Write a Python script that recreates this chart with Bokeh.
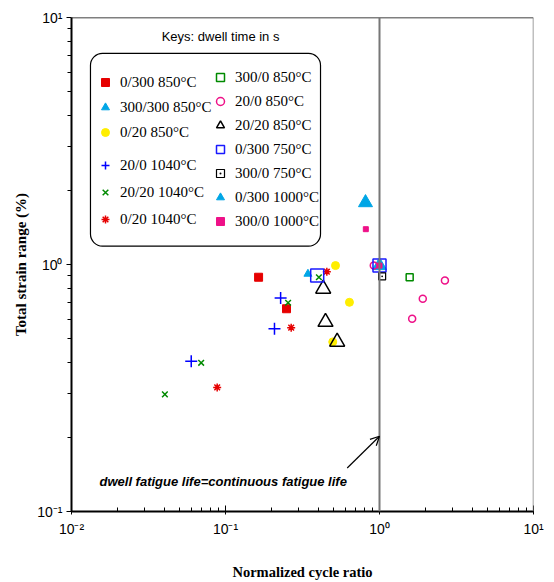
from bokeh.plotting import figure
from bokeh.models import (Range1d, Span, Arrow, OpenHead, Label, Legend, LegendItem,
                          BoxAnnotation, CustomJSTickFormatter, FixedTicker)
from bokeh.embed import file_html
from bokeh.resources import INLINE

# ---------------- data (normalized cycle ratio, total strain range %) ----------------
labels = ["0/300 850°C", "300/300 850°C", "0/20 850°C", "20/0 1040°C", "20/20 1040°C",
          "0/20 1040°C", "300/0 850°C", "20/0 850°C", "20/20 850°C", "0/300 750°C",
          "300/0 750°C", "0/300 1000°C", "300/0 1000°C"]

x_0_300_850 = [0.164, 0.249]
y_0_300_850 = [0.888, 0.662]
x_300_300_850 = [0.343]
y_300_300_850 = [0.916]
x_0_20_850 = [0.518, 0.638, 0.497]
y_0_20_850 = [0.99, 0.703, 0.486]
x_20_0_1040 = [0.228, 0.208, 0.0599]
y_20_0_1040 = [0.731, 0.55, 0.406]
x_20_20_1040 = [0.404, 0.255, 0.0695, 0.0404]
y_20_20_1040 = [0.888, 0.700, 0.400, 0.298]
x_0_20_1040 = [0.455, 0.267, 0.0883]
y_0_20_1040 = [0.935, 0.555, 0.318]
x_300_0_850 = [1.57]
y_300_0_850 = [0.888]
x_20_0_850 = [0.918, 2.66, 1.91, 1.63]
y_20_0_850 = [0.99, 0.861, 0.727, 0.603]
x_20_20_850 = [0.431, 0.446, 0.531]
y_20_20_850 = [0.797, 0.585, 0.486]
x_0_300_750 = [0.394, 1.0]
y_0_300_750 = [0.902, 0.99]
x_300_0_750 = [1.04]
y_300_0_750 = [0.896]
x_0_300_1000 = [0.811, 1.0]
y_0_300_1000 = [1.78, 0.99]
x_300_0_1000 = [0.815, 1.0]
y_300_0_1000 = [1.39, 0.99]

x_tick_exps = [-2, -1, 0, 1]
x_tick_labels = ["10⁻²", "10⁻¹", "10⁰", "10¹"]
y_tick_exps = [-1, 0, 1]
y_tick_labels = ["10⁻¹", "10⁰", "10¹"]

legend_title = "Keys: dwell time in s"
note_text = "dwell fatigue life=continuous fatigue life"

# ---------------- figure ----------------
p = figure(width=554, height=582, x_axis_type="log", y_axis_type="log",
           x_range=Range1d(0.01, 10), y_range=Range1d(0.1, 10),
           output_backend="svg", toolbar_location=None,
           min_border_left=71, min_border_right=21, min_border_top=17, min_border_bottom=68)
p.grid.visible = False
p.outline_line_color = None
p.background_fill_color = "white"
p.border_fill_color = "white"


def decade_ticks(exps):
    major = [10.0 ** e for e in exps]
    minor = [k * 10.0 ** e for e in exps[:-1] for k in range(2, 10)]
    return FixedTicker(ticks=major, minor_ticks=minor)


fmt_code = """
const e = Math.round(Math.log10(tick));
const i = exps.indexOf(e);
return i >= 0 ? labels[i] : "";
"""
xa = p.xaxis[0]
xa.ticker = decade_ticks(x_tick_exps)
xa.formatter = CustomJSTickFormatter(args=dict(exps=x_tick_exps, labels=x_tick_labels), code=fmt_code)
xa.axis_label = "Normalized cycle ratio"
xa.axis_label_text_font = "Liberation Serif"
xa.axis_label_text_font_size = "14.5px"
xa.axis_label_text_font_style = "bold"
xa.axis_label_text_color = "black"
xa.axis_label_standoff = 24
xa.major_label_text_font = "Liberation Sans"
xa.major_label_text_font_size = "14px"
xa.major_label_text_color = "black"
xa.major_label_standoff = 6
xa.major_tick_in = 6
xa.major_tick_out = 3
xa.minor_tick_in = 4
xa.minor_tick_out = 0
xa.axis_line_width = 2
xa.axis_line_color = "black"
xa.major_tick_line_color = "black"
xa.minor_tick_line_color = "black"

ya = p.yaxis[0]
ya.ticker = decade_ticks(y_tick_exps)
ya.formatter = CustomJSTickFormatter(args=dict(exps=y_tick_exps, labels=y_tick_labels), code=fmt_code)
ya.axis_label = "Total strain range (%)"
ya.axis_label_text_font = "Liberation Serif"
ya.axis_label_text_font_size = "15px"
ya.axis_label_text_font_style = "bold"
ya.axis_label_text_color = "black"
ya.axis_label_standoff = 5
ya.major_label_text_font = "Liberation Sans"
ya.major_label_text_font_size = "14px"
ya.major_label_text_color = "black"
ya.major_label_standoff = 4
ya.major_tick_in = 0
ya.major_tick_out = 5
ya.minor_tick_in = 0
ya.minor_tick_out = 4
ya.axis_line_width = 2
ya.axis_line_color = "black"
ya.major_tick_line_color = "black"
ya.minor_tick_line_color = "black"

# frame lines
p.add_layout(Span(location=10, dimension="width", line_color="black", line_width=1.5))
p.add_layout(Span(location=10, dimension="height", line_color="#808080", line_width=1.5))
p.add_layout(Span(location=1, dimension="height", line_color="#777777", line_width=2))

# ---------------- series ----------------
RED = "#e60000"
CYAN = "#00a6e6"
YELLOW = "#ffee00"
BLUE = "#1a1aff"
GREEN = "#008a00"
PINK = "#ee1188"

r = {}
r[2] = p.scatter(x_0_20_850, y_0_20_850, marker="circle", size=8, fill_color=YELLOW, line_color=YELLOW)
r[0] = p.scatter(x_0_300_850, y_0_300_850, marker="square", size=8, fill_color=RED, line_color=RED)
r[1] = p.scatter(x_300_300_850, y_300_300_850, marker="triangle", size=8, fill_color=CYAN, line_color=CYAN)
r[3] = p.scatter(x_20_0_1040, y_20_0_1040, marker="cross", size=12, line_color="#0000ff", line_width=1.5)
r[8] = p.scatter(x_20_20_850, y_20_20_850, marker="triangle", size=15, fill_color=None,
                 line_color="black", line_width=1.5)
r[5] = p.scatter(x_0_20_1040, y_0_20_1040, marker="asterisk", size=8, line_color=RED, line_width=1.5)
r[6] = p.scatter(x_300_0_850, y_300_0_850, marker="square", size=7, fill_color=None,
                 line_color=GREEN, line_width=1.5)
r[11] = p.scatter(x_0_300_1000, y_0_300_1000, marker="triangle", size=14, fill_color=CYAN, line_color=CYAN)
r[7] = p.scatter(x_20_0_850, y_20_0_850, marker="circle", size=7, fill_color=None,
                 line_color=PINK, line_width=1.5)
r[9] = p.scatter(x_0_300_750, y_0_300_750, marker="square", size=13, fill_color=None,
                 line_color=BLUE, line_width=1.5)
r[4] = p.scatter(x_20_20_1040, y_20_20_1040, marker="x", size=8, line_color=GREEN, line_width=1.5)
r[10] = p.scatter(x_300_0_750, y_300_0_750, marker="square_dot", size=7, fill_color=None,
                  line_color="black", line_width=1.2)
r[12] = p.scatter(x_300_0_1000, y_300_0_1000, marker="square", size=5, fill_color=PINK, line_color=PINK)

# ---------------- legend ----------------
box = BoxAnnotation(left=0.01328, right=0.414, bottom=1.187, top=7.16,
                    fill_alpha=0, line_color="black", line_alpha=1.0, line_width=1.2,
                    border_radius=12)
p.add_layout(box)


def make_legend(idx, loc, spacing):
    lg = Legend(items=[LegendItem(label=labels[i], renderers=[r[i]]) for i in idx],
                location=loc, spacing=spacing, padding=0, margin=0,
                border_line_color=None, background_fill_alpha=0,
                label_text_font="Liberation Serif", label_text_font_size="15px",
                label_text_color="black", glyph_width=20, glyph_height=20,
                label_height=20, label_standoff=5)
    p.add_layout(lg, "center")
    return lg


make_legend([0, 1, 2], (24, 369), 5)
make_legend([3, 4, 5], (24, 282), 7)
make_legend([6, 7, 8, 9, 10, 11, 12], (139, 280), 4)

p.add_layout(Label(x=0.0929, y=8.38, text=legend_title, text_align="center", text_baseline="middle",
                   text_font="Liberation Sans", text_font_size="13px", text_color="black"))

# ---------------- annotation ----------------
p.add_layout(Label(x=0.0152, y=0.132, text=note_text, text_baseline="middle",
                   text_font="Liberation Sans", text_font_size="13px",
                   text_font_style="bold italic", text_color="black"))
p.add_layout(Arrow(end=OpenHead(size=9, line_width=1.2, line_color="black"),
                   x_start=0.617, y_start=0.150, x_end=1.0, y_end=0.2017,
                   line_width=1.2, line_color="black"))

with open("out.html", "w", encoding="utf-8") as f:
    f.write(file_html(p, INLINE))
